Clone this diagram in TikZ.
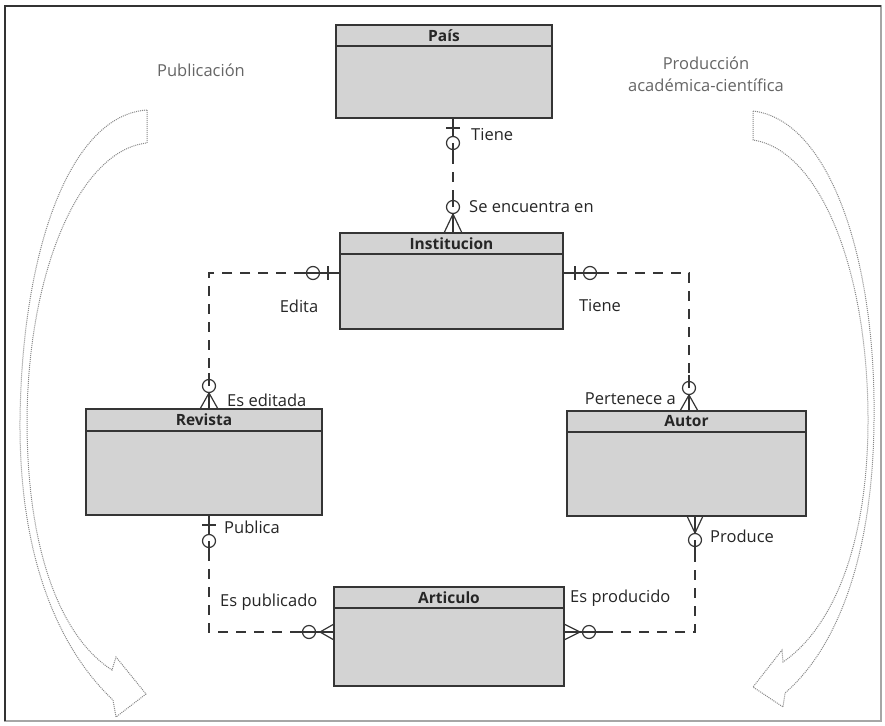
\documentclass[tikz,border=0pt]{standalone}
\usepackage{fontspec}
\setmainfont{Open Sans}
\usetikzlibrary{calc}
\definecolor{entfill}{HTML}{D3D3D3}
\definecolor{edgecol}{HTML}{353535}
\definecolor{relcol}{HTML}{353535}
\definecolor{labcol}{HTML}{262626}
\definecolor{sweepcol}{HTML}{888888}
\definecolor{notecol}{HTML}{666666}
\newcommand\erlab{\fontsize{16.5}{20}\selectfont}
\newcommand\ernote{\fontsize{16.5}{22}\selectfont}
\newcommand\ertitle{\fontsize{15.5}{18}\selectfont\bfseries}
\tikzset{
  entity/.style={draw=edgecol, fill=entfill, line width=1.3pt, rectangle, inner sep=0pt, outer sep=0pt, anchor=north west},
  ttl/.style={font=\ertitle, text=labcol, inner sep=0pt, anchor=center},
  hdr/.style={draw=edgecol, line width=1.3pt},
  rel/.style={draw=relcol, line width=1.2pt, dash pattern=on 10pt off 8pt},
  sym/.style={draw=relcol, line width=1.2pt, solid},
  lab/.style={font=\erlab, text=labcol, inner sep=0pt},
  note/.style={font=\ernote, text=notecol, inner sep=0pt, align=center},
  sweep/.style={draw=sweepcol, densely dotted, line width=1pt},
}
\begin{document}
\begin{tikzpicture}[x=1pt,y=-1pt]
\useasboundingbox (0,0) rectangle (885,725);
\fill[white] (0,0) rectangle (885,725);
% frame
\draw[draw=black!35, line width=1.2pt] (5,6) rectangle (881,721);
\draw[draw=black!80, line width=1.8pt] (5,721) -- (5,6) -- (881,6);

% sweeping arrows
\draw[sweep] (147,110) .. controls (70,115) and (22,250) .. (20,420)
  .. controls (19,560) and (60,650) .. (113,700) -- (116,717) -- (146,694) -- (116,657) -- (112,670)
  .. controls (65,640) and (27,560) .. (27,420) .. controls (28,270) and (80,150) .. (147,143) -- cycle;
\draw[sweep] (753,111) .. controls (830,120) and (876,260) .. (874,420)
  .. controls (873,560) and (835,650) .. (785,693) -- (783,707) -- (753,687) -- (782,650) -- (783,662)
  .. controls (830,630) and (868,550) .. (868,420) .. controls (868,270) and (820,150) .. (753,140) -- cycle;

\node[note] (npub) at (201,70) {Publicación};
\node[note] (nprod) at (706,74) {Producción\\académica-científica};

% entities
\node[entity, minimum width=216pt, minimum height=93pt] (pais) at (336,25) {};
\node[entity, minimum width=223pt, minimum height=96pt] (inst) at (340,233) {};
\node[entity, minimum width=236pt, minimum height=106pt] (rev) at (86,409) {};
\node[entity, minimum width=239pt, minimum height=105pt] (autor) at (567,411) {};
\node[entity, minimum width=230pt, minimum height=99pt] (art) at (334,587) {};

\draw[hdr] ($(pais.north west)+(0,21)$) -- ($(pais.north east)+(0,21)$);
\draw[hdr] ($(inst.north west)+(0,21)$) -- ($(inst.north east)+(0,21)$);
\draw[hdr] ($(rev.north west)+(0,22)$) -- ($(rev.north east)+(0,22)$);
\draw[hdr] ($(autor.north west)+(0,21)$) -- ($(autor.north east)+(0,21)$);
\draw[hdr] ($(art.north west)+(0,21)$) -- ($(art.north east)+(0,21)$);

\node[ttl] (tpais) at ($(pais.north)+(0,10.5)$) {País};
\node[ttl] (tinst) at ($(inst.north)+(0,10.5)$) {Institucion};
\node[ttl] (trev) at ($(rev.north)+(0,11)$) {Revista};
\node[ttl] (tautor) at ($(autor.north)+(0,10.5)$) {Autor};
\node[ttl] (tart) at ($(art.north)+(0,10.5)$) {Articulo};

% connector endpoints on the entities
\coordinate (p1) at ($(pais.south west)+(117,0)$);
\coordinate (p2) at ($(inst.north west)+(113,0)$);
\coordinate (c2a) at ($(inst.north west)+(0,40)$);
\coordinate (c2b) at ($(rev.north west)+(123,0)$);
\coordinate (c3a) at ($(inst.north east)+(0,40)$);
\coordinate (c3b) at ($(autor.north west)+(122,0)$);
\coordinate (c4a) at ($(rev.south west)+(123,0)$);
\coordinate (c4b) at ($(art.north west)+(0,45)$);
\coordinate (c5a) at ($(autor.south west)+(128,0)$);
\coordinate (c5b) at ($(art.north east)+(0,45)$);

% C1 Pais - Institucion
\draw[rel] (p1) -- (p2);
\draw[sym] (p1) -- ++(0,37);
\draw[sym] ($(p1)+(-7,10)$) -- ++(14,0);
\draw[sym, fill=white] ($(p1)+(0,25)$) circle (6.5pt);
\draw[sym] ($(p1)+(0,25)$) -- ++(0,12);
\draw[sym] (p2) -- ++(0,-38);
\draw[sym, fill=white] ($(p2)+(0,-26)$) circle (6.5pt);
\draw[sym] ($(p2)+(0,-26)$) -- ++(0,-12);
\draw[sym] ($(p2)+(-9,0)$) -- ($(p2)+(0,-19)$) -- ($(p2)+(9,0)$);
\draw[sym] ($(p2)+(0,-19)$) -- (p2);

% C2 Institucion - Revista
\draw[rel] (c2a) -| (c2b);
\draw[sym] (c2a) -- ++(-40,0);
\draw[sym] ($(c2a)+(-12,-7)$) -- ++(0,14);
\draw[sym] ($(c2a)+(-27,0)$) circle (6.5pt);
\draw[sym] (c2b) -- ++(0,-36);
\draw[sym, fill=white] ($(c2b)+(0,-23)$) circle (6.5pt);
\draw[sym] ($(c2b)+(0,-23)$) -- ++(0,-13);
\draw[sym] ($(c2b)+(-9,0)$) -- ($(c2b)+(0,-16)$) -- ($(c2b)+(9,0)$);

% C3 Institucion - Autor
\draw[rel] (c3a) -| (c3b);
\draw[sym] (c3a) -- ++(40,0);
\draw[sym] ($(c3a)+(12,-7)$) -- ++(0,14);
\draw[sym] ($(c3a)+(27,0)$) circle (6.5pt);
\draw[sym] (c3b) -- ++(0,-36);
\draw[sym, fill=white] ($(c3b)+(0,-23)$) circle (6.5pt);
\draw[sym] ($(c3b)+(0,-23)$) -- ++(0,-13);
\draw[sym] ($(c3b)+(-9,0)$) -- ($(c3b)+(0,-16)$) -- ($(c3b)+(9,0)$);

% C4 Revista - Articulo
\draw[rel] (c4a) |- (c4b);
\draw[sym] (c4a) -- ++(0,38);
\draw[sym] ($(c4a)+(-7,10)$) -- ++(14,0);
\draw[sym, fill=white] ($(c4a)+(0,26)$) circle (6.5pt);
\draw[sym] ($(c4a)+(0,26)$) -- ++(0,12);
\draw[sym] (c4b) -- ++(-40,0);
\draw[sym] ($(c4b)+(-25,0)$) circle (6.5pt);
\draw[sym] ($(c4b)+(0,-8)$) -- ($(c4b)+(-14,0)$) -- ($(c4b)+(0,8)$);

% C5 Autor - Articulo
\draw[rel] (c5a) |- (c5b);
\draw[sym] (c5a) -- ++(0,38);
\draw[sym] ($(c5a)+(-8,0)$) -- ($(c5a)+(0,17)$) -- ($(c5a)+(8,0)$);
\draw[sym, fill=white] ($(c5a)+(0,24)$) circle (6.5pt);
\draw[sym] ($(c5a)+(0,24)$) -- ++(0,14);
\draw[sym] (c5b) -- ++(40,0);
\draw[sym] ($(c5b)+(25,0)$) circle (6.5pt);
\draw[sym] ($(c5b)+(0,-8)$) -- ($(c5b)+(16,0)$) -- ($(c5b)+(0,8)$);

% labels
\node[lab, anchor=west] (l1) at (471,135) {Tiene};
\node[lab, anchor=west] (l2) at (469,207) {Se encuentra en};
\node[lab] (l3) at (299,306) {Edita};
\node[lab] (l4) at (600,306) {Tiene};
\node[lab, anchor=west] (l5) at (227,400) {Es editada};
\node[lab, anchor=east] (l6) at (676,399) {Pertenece a};
\node[lab, anchor=west] (l7) at (224,527) {Publica};
\node[lab, anchor=west] (l8) at (220,602) {Es publicado};
\node[lab, anchor=west] (l9) at (570,598) {Es producido};
\node[lab, anchor=west] (l10) at (710,536) {Produce};
\end{tikzpicture}
\end{document}
